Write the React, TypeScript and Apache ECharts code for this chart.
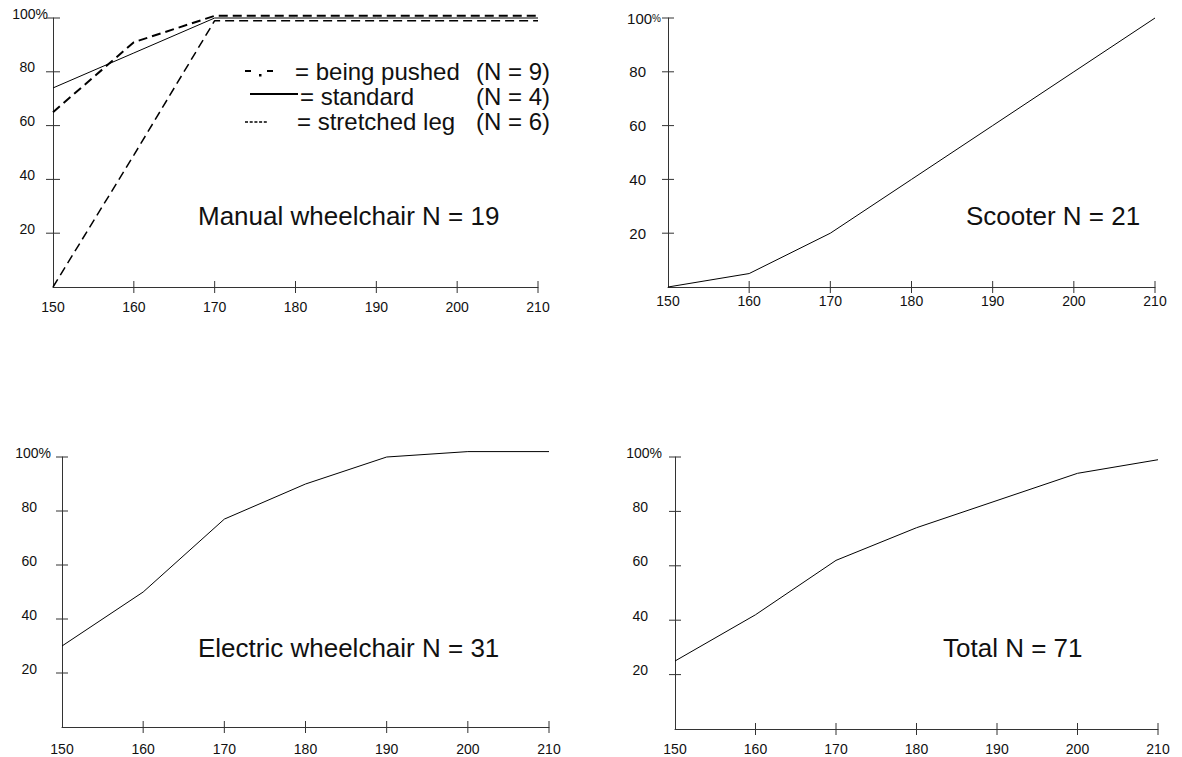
import React, { useEffect, useRef } from "react";
import * as echarts from "echarts";

const heights = [150, 160, 170, 180, 190, 200, 210];
const yTicks = [0, 20, 40, 60, 80, 100];

// Manual wheelchair (cumulative %)
const beingPushed = [0, 49, 99, 99, 99, 99, 99];
const standard = [74, 87, 100, 100, 100, 100, 100];
const stretchedLeg = [65, 91, 100.8, 100.8, 100.8, 100.8, 100.8];
// Scooter
const scooter = [0, 5, 20, 40, 60, 80, 100];
// Electric wheelchair
const electric = [30, 50, 77, 90, 100, 102, 102];
// Total
const total = [25, 42, 62, 74, 84, 94, 99];

const titles = ["Manual wheelchair N = 19", "Scooter N = 21", "Electric wheelchair N = 31", "Total N = 71"];
const legendNames = ["= being pushed", "= standard", "= stretched leg"];
const legendN = ["(N = 9)", "(N = 4)", "(N = 6)"];

const FONT = '"Liberation Sans", Arial, Helvetica, sans-serif';
const AX = "#333";
const TXT = "#111";

const panels = [
  { left: 53, top: 18, width: 485, height: 269, xMargin: 13, yMargin: 18, lift: true, topMargin: 5, smallPct: false, tickLen: 7 },
  { left: 668, top: 18, width: 487, height: 269, xMargin: 7, yMargin: 22, lift: false, topMargin: 7, smallPct: true, tickLen: 6 },
  { left: 62, top: 457, width: 487, height: 270, xMargin: 15, yMargin: 25, lift: true, topMargin: 11, smallPct: false, tickLen: 6 },
  { left: 675, top: 457, width: 483, height: 272, xMargin: 13, yMargin: 27, lift: true, topMargin: 13, smallPct: false, tickLen: 6 },
];

const pairs = (vals: number[]) => heights.map((h, i) => [h, vals[i]]);

export default function App() {
  const ref = useRef<HTMLDivElement>(null);
  useEffect(() => {
    if (!ref.current) return;
    const chart = echarts.init(ref.current, null, { renderer: "svg" });
    const grid: any[] = [];
    const xAxis: any[] = [];
    const yAxis: any[] = [];
    const tickSeries: any[] = [];
    panels.forEach((p, i) => {
      grid.push({ left: p.left, top: p.top, width: p.width, height: p.height, containLabel: false });
      xAxis.push({
        type: "value",
        gridIndex: i,
        min: heights[0],
        max: heights[heights.length - 1],
        interval: 10,
        position: "bottom",
        splitLine: { show: false },
        axisLine: { show: true, lineStyle: { color: AX, width: 1 } },
        axisTick: { show: false },
        axisLabel: { show: true, margin: p.xMargin, fontSize: 14, fontFamily: FONT, color: TXT },
      });
      const yBase = {
        type: "value",
        gridIndex: i,
        min: yTicks[0],
        max: yTicks[yTicks.length - 1],
        interval: 20,
        position: "left",
        offset: 0,
        splitLine: { show: false },
        axisTick: { show: false },
      };
      const liftStyle = p.lift ? { verticalAlign: "bottom", lineHeight: 9 } : {};
      yAxis.push({
        ...yBase,
        axisLine: { show: true, lineStyle: { color: AX, width: 1 } },
        axisLabel: {
          show: true,
          margin: p.yMargin,
          fontSize: p.smallPct ? 15 : 14,
          fontFamily: FONT,
          color: TXT,
          ...liftStyle,
          formatter: (v: number) => (v === 0 || v === 100 ? "" : String(v)),
        },
      });
      yAxis.push({
        ...yBase,
        axisLine: { show: false },
        axisLabel: {
          show: true,
          margin: p.topMargin,
          fontFamily: FONT,
          color: TXT,
          ...liftStyle,
          formatter: (v: number) => (v === 100 ? (p.smallPct ? "{a|100}{b|%}" : "{p|100%}") : ""),
          rich: {
            p: { fontSize: 14, fontFamily: FONT, color: TXT, ...(p.lift ? { lineHeight: 9 } : {}) },
            a: { fontSize: 15, fontFamily: FONT, color: TXT },
            b: { fontSize: 10, fontFamily: FONT, color: TXT },
          },
        },
      });
      const len = p.tickLen;
      // crossing ticks on the x axis (skip the origin)
      tickSeries.push({
        type: "custom",
        xAxisIndex: i * 2 === 0 ? 0 : i,
        yAxisIndex: i * 2,
        data: heights.slice(1).map((h) => [h, yTicks[0]]),
        silent: true,
        clip: false,
        renderItem: (_params: any, api: any) => {
          const pt = api.coord([api.value(0), api.value(1)]);
          return {
            type: "line",
            shape: { x1: pt[0], y1: pt[1] - 6, x2: pt[0], y2: pt[1] + 6 },
            style: { stroke: AX, lineWidth: 1 },
          };
        },
        z: 4,
      });
      // crossing ticks on the y axis
      tickSeries.push({
        type: "custom",
        xAxisIndex: i,
        yAxisIndex: i * 2,
        data: yTicks.slice(1).map((v) => [heights[0], v]),
        silent: true,
        clip: false,
        renderItem: (_params: any, api: any) => {
          const pt = api.coord([api.value(0), api.value(1)]);
          return {
            type: "line",
            shape: { x1: pt[0] - len, y1: pt[1], x2: pt[0] + len, y2: pt[1] },
            style: { stroke: AX, lineWidth: 1 },
          };
        },
        z: 4,
      });
    });
    // fix xAxisIndex for tick series (one x axis per panel)
    tickSeries.forEach((s, k) => {
      s.xAxisIndex = Math.floor(k / 2);
    });

    const line = (name: string, idx: number, vals: number[], style: any) => ({
      name,
      type: "line",
      xAxisIndex: idx,
      yAxisIndex: idx * 2,
      data: pairs(vals),
      symbol: "none",
      clip: false,
      connectNulls: true,
      lineStyle: { color: "#000", width: 1, ...style },
      z: 3,
    });

    const series = [
      line("being pushed", 0, beingPushed, { width: 1.5, type: [9, 5] }),
      line("standard", 0, standard, { width: 1 }),
      line("stretched leg", 0, stretchedLeg, { width: 2, type: [9, 5] }),
      line("Scooter", 1, scooter, {}),
      line("Electric wheelchair", 2, electric, {}),
      line("Total", 3, total, {}),
      ...tickSeries,
    ];

    const titlePos = [
      [198, 216],
      [966, 216],
      [198, 648],
      [943, 648],
    ];
    const graphic: any[] = titles.map((t, i) => ({
      type: "text",
      x: titlePos[i][0],
      y: titlePos[i][1],
      style: { text: t, fontSize: 26, fontFamily: FONT, fill: TXT, align: "left", verticalAlign: "middle" },
      z: 10,
    }));

    const rowY = [71, 96, 121];
    graphic.push(
      { type: "line", shape: { x1: 245, y1: 71, x2: 251, y2: 71 }, style: { stroke: "#000", lineWidth: 2 } },
      { type: "rect", shape: { x: 259, y: 74, width: 2.5, height: 2.5 }, style: { fill: "#000" } },
      { type: "line", shape: { x1: 267, y1: 71, x2: 273, y2: 71 }, style: { stroke: "#000", lineWidth: 2 } },
      { type: "line", shape: { x1: 250, y1: 94, x2: 298, y2: 94 }, style: { stroke: "#000", lineWidth: 2 } },
      { type: "line", shape: { x1: 245, y1: 122, x2: 268, y2: 122 }, style: { stroke: "#000", lineWidth: 1.6, lineDash: [3, 1.7] } }
    );
    const nameX = [295, 300, 297];
    legendNames.forEach((n, i) => {
      graphic.push({
        type: "text",
        x: nameX[i],
        y: rowY[i],
        style: { text: n, fontSize: 24, fontFamily: FONT, fill: TXT, align: "left", verticalAlign: "middle" },
      });
      graphic.push({
        type: "text",
        x: 476,
        y: rowY[i],
        style: { text: legendN[i], fontSize: 24, fontFamily: FONT, fill: TXT, align: "left", verticalAlign: "middle" },
      });
    });

    chart.setOption({
      animation: false,
      backgroundColor: "#fff",
      grid,
      xAxis,
      yAxis,
      series,
      graphic,
    });
    return () => chart.dispose();
  }, []);
  return <div ref={ref} style={{ position: "absolute", left: 0, top: 0, width: 1182, height: 757 }} />;
}
